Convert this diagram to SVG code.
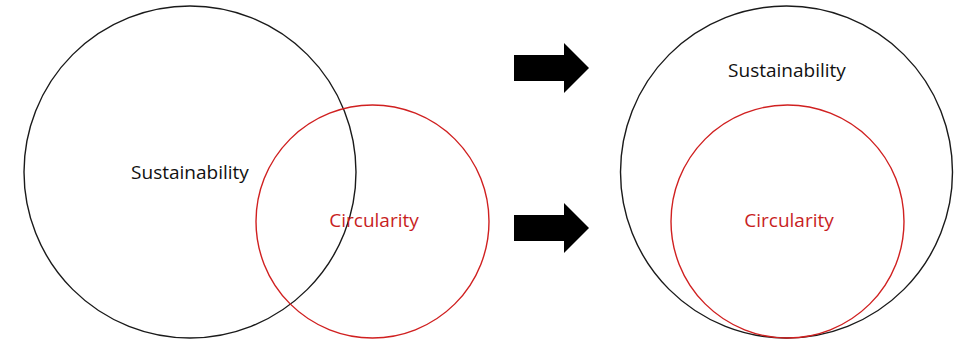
<svg xmlns="http://www.w3.org/2000/svg" width="962" height="340" viewBox="0 0 962 340">
<style>
.bk{fill:none;stroke:#1a1a1a;stroke-width:1.4}
.rd{fill:none;stroke:#d02020;stroke-width:1.4}
.t{font-family:"Open Sans","Liberation Sans",sans-serif;font-size:19px;text-anchor:middle}
.tb{fill:#111}
.tr{fill:#c81e1e}
.arrow{fill:#000}
</style>
<rect width="962" height="340" fill="#fff"/>
<g id="left-sustainability">
<circle class="bk" cx="190" cy="172" r="166"/>
<text class="t tb" x="190" y="179">Sustainability</text>
</g>
<g id="left-circularity">
<circle class="rd" cx="372.5" cy="221.5" r="116.5"/>
<text class="t tr" x="374" y="227">Circularity</text>
</g>
<g id="connectors">
<polygon id="arrow-top" class="arrow" points="514,55 564,55 564,43 589,68 564,93 564,81 514,81"/>
<polygon id="arrow-bottom" class="arrow" points="514,215 564,215 564,203 589,228 564,253 564,241 514,241"/>
</g>
<g id="right-sustainability">
<circle class="bk" cx="786.5" cy="172" r="166"/>
<text class="t tb" x="787" y="77">Sustainability</text>
</g>
<g id="right-circularity">
<circle class="rd" cx="787.5" cy="221.5" r="116.5"/>
<text class="t tr" x="789" y="227">Circularity</text>
</g>
</svg>
